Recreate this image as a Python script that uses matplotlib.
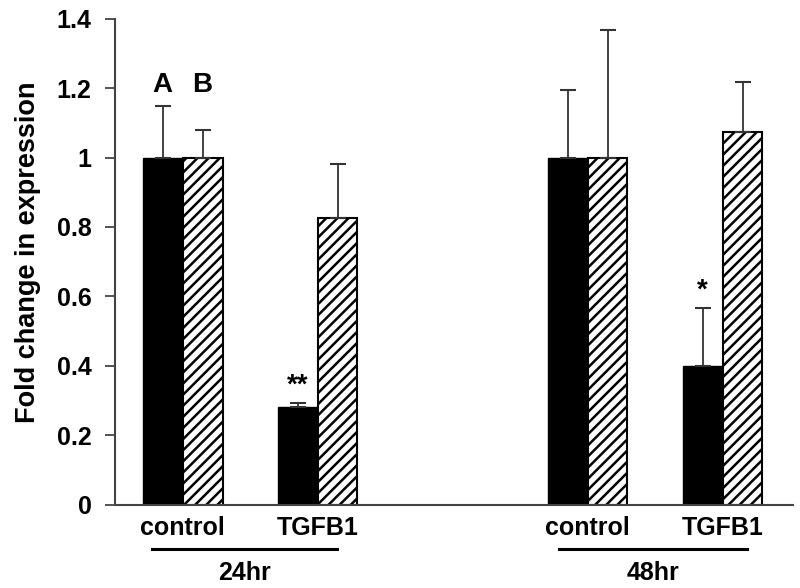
import numpy as np
from matplotlib import pyplot as plt

plt.rcParams['font.family'] = ['Liberation Sans', 'DejaVu Sans']
plt.rcParams['font.weight'] = 'bold'
plt.rcParams['hatch.linewidth'] = 1.8

# bar data: A = solid black, B = hatched
conditions = ["control", "TGFB1", "control", "TGFB1"]
times = ["24hr", "48hr"]
vals_a = [1.0, 0.28, 1.0, 0.40]
err_a = [0.148, 0.013, 0.196, 0.165]
vals_b = [1.0, 0.826, 1.0, 1.075]
err_b = [0.08, 0.156, 0.368, 0.143]
stars = ["", "**", "", "*"]

pos = np.array([0, 1, 3, 4])
w = 0.295

fig = plt.figure(figsize=(8, 5.88), dpi=100)
ax = fig.add_axes([0.144, 0.142, 0.847, 0.826])

ax.bar(pos - w / 2, vals_a, w, color="black", edgecolor="black", linewidth=1)
ax.bar(pos + w / 2, vals_b, w, color="white", edgecolor="black", hatch="///", linewidth=1.5)
ax.errorbar(pos - w / 2, vals_a, yerr=[np.zeros(4), err_a], fmt="none",
            ecolor="#333333", elinewidth=1.3, capsize=6, capthick=1.5)
ax.errorbar(pos + w / 2, vals_b, yerr=[np.zeros(4), err_b], fmt="none",
            ecolor="#333333", elinewidth=1.3, capsize=6, capthick=1.5)

# significance marks
for p, v, e, s in zip(pos, vals_a, err_a, stars):
    if s:
        ax.text(p - w / 2, v + e + 0.03, s, ha="center", va="baseline", fontsize=20)

ax.text(pos[0] - w / 2, 1.19, "A", ha="center", va="baseline", fontsize=20)
ax.text(pos[0] + w / 2, 1.19, "B", ha="center", va="baseline", fontsize=20)

ax.set_xlim(-0.5, 4.52)
ax.set_ylim(0, 1.4)
ax.set_yticks(np.arange(0, 1.41, 0.2))
ax.set_yticklabels(["0", "0.2", "0.4", "0.6", "0.8", "1", "1.2", "1.4"])
ax.tick_params(axis="y", direction="out", length=7, width=1.3, color="#444444",
               labelsize=18, pad=10)
ax.set_xticks([])
for side in ["top", "right"]:
    ax.spines[side].set_visible(False)
for side in ["left", "bottom"]:
    ax.spines[side].set_color("#444444")
    ax.spines[side].set_linewidth(1.5)

ax.set_ylabel("Fold change in expression", fontsize=19.5, fontweight="bold")
ax.yaxis.set_label_coords(-0.11, 0.52)

trans = ax.get_xaxis_transform()
for p, c in zip(pos, conditions):
    ax.text(p, -0.048, c, transform=trans, ha="center", va="center", fontsize=18, clip_on=False)

group_lines = [(-0.23, 1.14), (2.79, 4.18)]
for (x0, x1), t in zip(group_lines, times):
    ax.plot([x0, x1], [-0.092, -0.092], transform=trans, color="black", lw=2.2, clip_on=False)
    ax.text((x0 + x1) / 2, -0.141, t, transform=trans, ha="center", va="center",
            fontsize=18, clip_on=False)

fig.savefig("out.png", dpi=100)
